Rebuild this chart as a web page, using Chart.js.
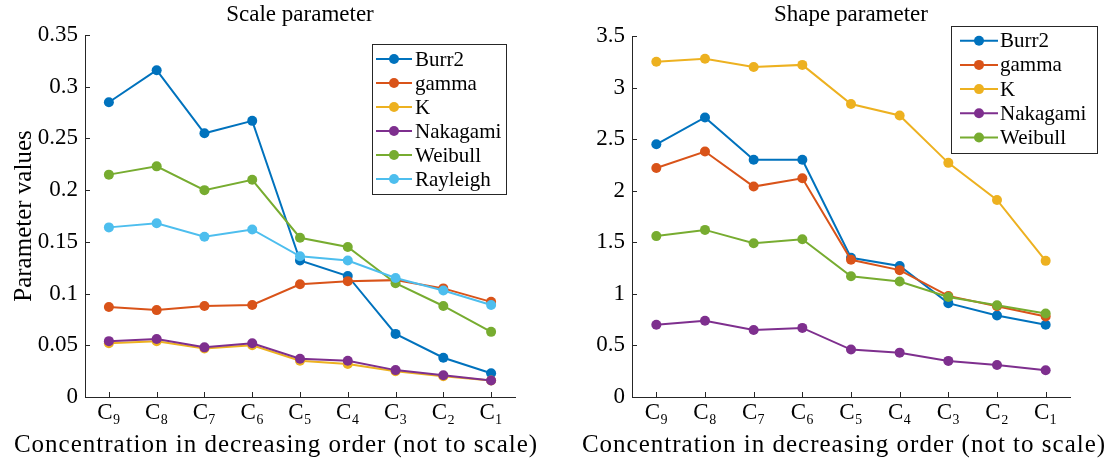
<!DOCTYPE html>
<html>
<head>
<meta charset="utf-8">
<script src="https://cdn.jsdelivr.net/npm/chart.js@4.4.0/dist/chart.umd.min.js"></script>
<style>
  body { margin: 0; background: #fff; width: 1109px; height: 463px; overflow: hidden; position: relative; }
  .box { position: absolute; top: 0; height: 463px; }
</style>
</head>
<body>
<div class="box" style="left:0;width:550px"><canvas id="scaleChart"></canvas></div>
<div class="box" style="left:555px;width:554px"><canvas id="shapeChart"></canvas></div>
<script>
// categories
var concLabels = ['C\u2089', 'C\u2088', 'C\u2087', 'C\u2086', 'C\u2085', 'C\u2084', 'C\u2083', 'C\u2082', 'C\u2081'];
var xAxisText = 'Concentration in decreasing order (not to scale)';

// scale parameter values
var scaleNames = ['Burr2', 'gamma', 'K', 'Nakagami', 'Weibull', 'Rayleigh'];
var scaleBurr2    = [0.285, 0.316, 0.255, 0.267, 0.132, 0.117, 0.061, 0.038, 0.023];
var scaleGamma    = [0.087, 0.084, 0.088, 0.089, 0.109, 0.112, 0.113, 0.105, 0.092];
var scaleK        = [0.052, 0.054, 0.047, 0.050, 0.035, 0.032, 0.025, 0.020, 0.016];
var scaleNakagami = [0.054, 0.056, 0.048, 0.052, 0.037, 0.035, 0.026, 0.021, 0.016];
var scaleWeibull  = [0.215, 0.223, 0.200, 0.210, 0.154, 0.145, 0.110, 0.088, 0.063];
var scaleRayleigh = [0.164, 0.168, 0.155, 0.162, 0.136, 0.132, 0.115, 0.103, 0.089];

// shape parameter values
var shapeNames = ['Burr2', 'gamma', 'K', 'Nakagami', 'Weibull'];
var shapeBurr2    = [2.45, 2.71, 2.30, 2.30, 1.35, 1.27, 0.91, 0.79, 0.70];
var shapeGamma    = [2.22, 2.38, 2.04, 2.12, 1.33, 1.23, 0.98, 0.88, 0.78];
var shapeK        = [3.25, 3.28, 3.20, 3.22, 2.84, 2.73, 2.27, 1.91, 1.32];
var shapeNakagami = [0.70, 0.74, 0.65, 0.67, 0.46, 0.43, 0.35, 0.31, 0.26];
var shapeWeibull  = [1.56, 1.62, 1.49, 1.53, 1.17, 1.12, 0.97, 0.89, 0.81];

var colours = ['#0072BD', '#D95319', '#EDB120', '#7E2F8E', '#77AC30', '#4DBEEE'];
var axisColour = '#262626';
var serif = '"Liberation Serif", "DejaVu Serif", serif';

Chart.defaults.font.family = serif;
Chart.defaults.color = axisColour;

function makeDatasets(names, series) {
    var n = names.length;
    return names.map(function (name, i) {
        return {
            label: name,
            data: series[i],
            borderColor: colours[i],
            backgroundColor: colours[i],
            borderWidth: 2,
            pointRadius: 5,
            pointHoverRadius: 5,
            pointBorderWidth: 0,
            tension: 0,
            order: n - i   // later series on top, like matlab
        };
    });
}

// title above the plot and axis caption below it
// (chart.js squeezes its own axis title to the plot width, the original runs wider)
var plotTexts = {
    id: 'plotTexts',
    afterDraw: function (chart, args, opts) {
        var ctx = chart.ctx;
        var cx = (chart.chartArea.left + chart.chartArea.right) / 2;
        ctx.save();
        ctx.fillStyle = '#000';
        ctx.textAlign = 'center';
        ctx.textBaseline = 'middle';
        ctx.font = '23px ' + serif;
        ctx.fillText(opts.title, cx, opts.titleY);
        ctx.textBaseline = 'alphabetic';
        ctx.font = '25px ' + serif;
        ctx.letterSpacing = '1px';
        ctx.fillText(opts.caption, opts.captionX, opts.captionY);
        ctx.restore();
    }
};

// short tick marks pointing into the plot
var innerTicks = {
    id: 'innerTicks',
    afterDraw: function (chart) {
        var ctx = chart.ctx;
        var xs = chart.scales.x, ys = chart.scales.y;
        ctx.save();
        ctx.strokeStyle = axisColour;
        ctx.lineWidth = 1;
        ctx.beginPath();
        for (var i = 0; i < xs.ticks.length; i++) {
            var px = Math.round(xs.getPixelForTick(i)) + 0.5;
            ctx.moveTo(px, ys.bottom);
            ctx.lineTo(px, ys.bottom - 5);
        }
        for (var j = 0; j < ys.ticks.length; j++) {
            var py = Math.round(ys.getPixelForTick(j)) + 0.5;
            ctx.moveTo(xs.left, py);
            ctx.lineTo(xs.left + 5, py);
        }
        ctx.stroke();
        ctx.restore();
    }
};

// boxed legend with line + marker samples
var boxLegend = {
    id: 'boxLegend',
    afterDatasetsDraw: function (chart, args, o) {
        var ctx = chart.ctx;
        ctx.save();
        ctx.fillStyle = '#fff';
        ctx.fillRect(o.x, o.y, o.w, o.h);
        ctx.strokeStyle = axisColour;
        ctx.lineWidth = 1;
        ctx.strokeRect(o.x + 0.5, o.y + 0.5, o.w, o.h);
        ctx.font = '21px ' + serif;
        ctx.textBaseline = 'middle';
        chart.data.datasets.forEach(function (ds, i) {
            var cy = o.y + o.first + i * o.step;
            var x0 = o.x + o.lineStart;
            ctx.strokeStyle = ds.borderColor;
            ctx.lineWidth = 2;
            ctx.beginPath();
            ctx.moveTo(x0, cy);
            ctx.lineTo(x0 + o.lineLen, cy);
            ctx.stroke();
            ctx.fillStyle = ds.borderColor;
            ctx.beginPath();
            ctx.arc(x0 + o.lineLen / 2, cy, 5, 0, Math.PI * 2);
            ctx.fill();
            ctx.fillStyle = '#000';
            ctx.fillText(ds.label, o.x + o.textX, cy + 1);
        });
        ctx.restore();
    }
};

function tickText(value) {
    return String(Number(value.toFixed(2)));
}

function makeChart(id, names, series, cfg) {
    var ctx = document.getElementById(id).getContext('2d');
    return new Chart(ctx, {
        type: 'line',
        data: { labels: concLabels, datasets: makeDatasets(names, series) },
        plugins: [plotTexts, innerTicks, boxLegend],
        options: {
            responsive: true,
            maintainAspectRatio: false,
            animation: false,
            layout: { padding: { top: cfg.top, right: cfg.right, left: 0, bottom: 0 } },
            plugins: {
                legend: { display: false },
                tooltip: { enabled: false },
                plotTexts: { title: cfg.title, titleY: 15, caption: xAxisText, captionX: cfg.captionX, captionY: 452 },
                boxLegend: cfg.legend
            },
            scales: {
                x: {
                    offset: true,
                    grid: { display: false, drawTicks: false },
                    border: { display: true, color: axisColour, width: 1 },
                    ticks: { font: { size: 23 }, padding: 2, color: '#000', maxRotation: 0 },
                    afterFit: function (scale) { scale.height = 66; }
                },
                y: {
                    min: 0,
                    max: cfg.max,
                    grid: { display: false, drawTicks: false },
                    border: { display: true, color: axisColour, width: 1 },
                    ticks: { stepSize: cfg.step, font: { size: 23 }, padding: 7, color: '#000', callback: tickText },
                    title: {
                        display: cfg.yTitle,
                        text: 'Parameter values',
                        font: { size: 25 },
                        color: '#000',
                        padding: { top: 9, bottom: 0 }
                    },
                    afterFit: function (scale) { scale.width = cfg.yWidth; }
                }
            }
        }
    });
}

makeChart('scaleChart', scaleNames,
    [scaleBurr2, scaleGamma, scaleK, scaleNakagami, scaleWeibull, scaleRayleigh],
    {
        title: 'Scale parameter', max: 0.35, step: 0.05, yTitle: true,
        top: 35, right: 35, yWidth: 85, captionX: 276,
        legend: { x: 372, y: 44, w: 134, h: 150, first: 15, step: 24, lineStart: 4, lineLen: 36, textX: 43 }
    });

makeChart('shapeChart', shapeNames,
    [shapeBurr2, shapeGamma, shapeK, shapeNakagami, shapeWeibull],
    {
        title: 'Shape parameter', max: 3.5, step: 0.5, yTitle: false,
        top: 36, right: 39, yWidth: 77, captionX: 289,
        legend: { x: 396, y: 26, w: 146, h: 127, first: 14.7, step: 24.2, lineStart: 9, lineLen: 38, textX: 49 }
    });
</script>
</body>
</html>
